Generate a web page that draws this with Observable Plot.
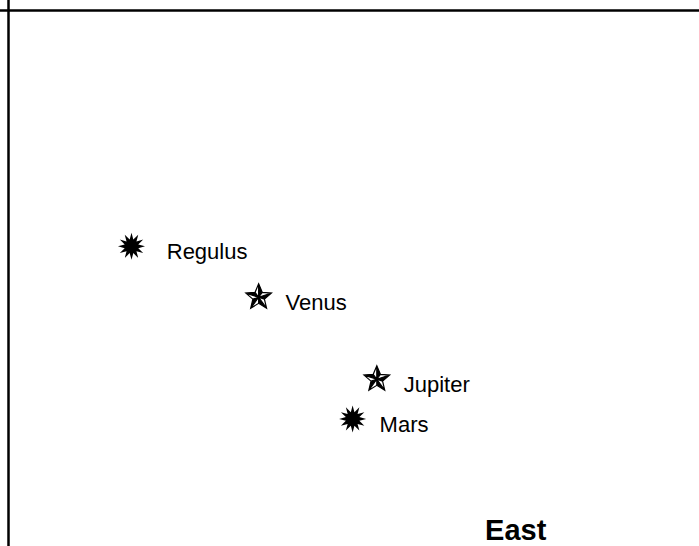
<!DOCTYPE html>
<html>
<head>
<meta charset="utf-8">
<script src="https://cdn.jsdelivr.net/npm/d3@7"></script>
<script src="https://cdn.jsdelivr.net/npm/@observablehq/plot@0.6"></script>
<style>
  html, body { margin: 0; padding: 0; background: #fff; }
</style>
</head>
<body>
<div id="chart"></div>
<script>
// Sky positions (arbitrary units: x to the east, y downward)
const names  = ["Regulus", "Venus", "Jupiter", "Mars"];
const kinds  = ["star", "planet", "planet", "star"];
const xs     = [17.8, 36.2, 53.3, 49.8];
const ys     = [44.0, 53.5, 68.8, 76.2];
const labelXs = [22.9, 40.1, 57.2, 53.7];
const direction = ["East"];
const directionX = [73.4];
const directionY = [97.0];

const bodies = names.map((n, i) => ({name: n, kind: kinds[i], x: xs[i], y: ys[i], lx: labelXs[i]}));
const dirs = direction.map((d, i) => ({label: d, x: directionX[i], y: directionY[i]}));

const burst = {
  draw(ctx, size) {
    const R = Math.sqrt(size / Math.PI), r = R * 0.52, n = 12;
    for (let i = 0; i < 2 * n; i++) {
      const a = Math.PI * i / n - Math.PI / 2;
      const rr = i % 2 ? r : R;
      const px = rr * Math.cos(a), py = rr * Math.sin(a);
      if (i === 0) ctx.moveTo(px, py); else ctx.lineTo(px, py);
    }
    ctx.closePath();
  }
};
function starPts(R) {
  const r = R * 0.45, pts = [];
  for (let i = 0; i < 10; i++) {
    const a = Math.PI * i / 5 - Math.PI / 2;
    const rr = i % 2 ? r : R;
    pts.push([rr * Math.cos(a), rr * Math.sin(a)]);
  }
  return pts;
}
const starOutline = {
  draw(ctx, size) {
    const pts = starPts(Math.sqrt(size / Math.PI));
    pts.forEach((p, i) => i ? ctx.lineTo(p[0], p[1]) : ctx.moveTo(p[0], p[1]));
    ctx.closePath();
    for (let i = 0; i < 10; i++) { ctx.moveTo(0, 0); ctx.lineTo(pts[i][0], pts[i][1]); }
  }
};
const starShade = {
  draw(ctx, size) {
    const pts = starPts(Math.sqrt(size / Math.PI));
    for (let i = 0; i < 10; i += 2) {
      const q = pts[(i + 1) % 10];
      ctx.moveTo(0, 0); ctx.lineTo(pts[i][0], pts[i][1]); ctx.lineTo(q[0], q[1]); ctx.closePath();
    }
  }
};

const chart = Plot.plot({
  width: 699,
  height: 546,
  margin: 0,
  style: {fontFamily: "'Liberation Sans', Arial, sans-serif", background: "#fff", color: "#000"},
  x: {domain: [0, 100], range: [8, 699], axis: null},
  y: {domain: [0, 100], range: [10, 546], axis: null},
  marks: [
    Plot.ruleX([0], {stroke: "#000", strokeWidth: 2.5}),
    Plot.ruleY([0], {stroke: "#000", strokeWidth: 2.5}),
    Plot.dot(bodies.filter(d => d.kind === "star"), {x: "x", y: "y", r: 13.5, symbol: burst, fill: "#000", stroke: "none"}),
    Plot.dot(bodies.filter(d => d.kind === "planet"), {x: "x", y: "y", r: 13.5, symbol: starOutline, fill: "#fff", stroke: "#000", strokeWidth: 1.2}),
    Plot.dot(bodies.filter(d => d.kind === "planet"), {x: "x", y: "y", r: 13.5, symbol: starShade, fill: "#000", stroke: "none"}),
    Plot.text(bodies, {x: "lx", y: "y", text: "name", textAnchor: "start", dy: 6, fontSize: 22, fill: "#000"}),
    Plot.text(dirs, {x: "x", y: "y", text: "label", fontSize: 29, fontWeight: "bold", fill: "#000"})
  ]
});
document.getElementById("chart").appendChild(chart);
</script>
</body>
</html>
